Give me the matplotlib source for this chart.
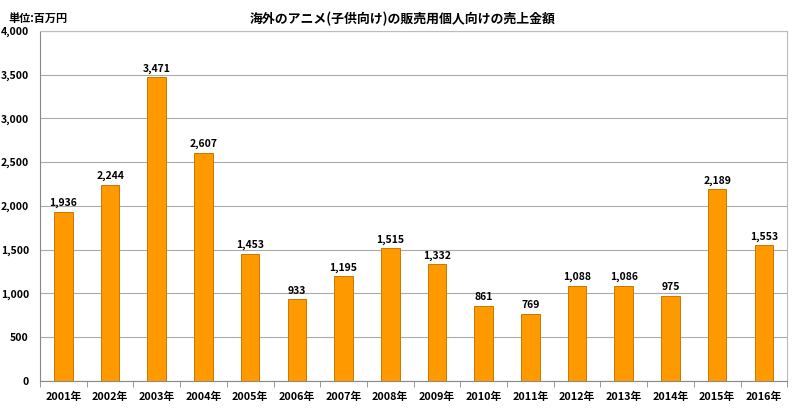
import matplotlib.pyplot as plt
import numpy as np

plt.rcParams['font.family'] = ['Noto Sans CJK JP', 'DejaVu Sans']

years = ['2001年', '2002年', '2003年', '2004年', '2005年', '2006年', '2007年', '2008年',
         '2009年', '2010年', '2011年', '2012年', '2013年', '2014年', '2015年', '2016年']
sales = [1936, 2244, 3471, 2607, 1453, 933, 1195, 1515, 1332, 861, 769, 1088, 1086, 975, 2189, 1553]
yticks = [0, 500, 1000, 1500, 2000, 2500, 3000, 3500, 4000]

fig = plt.figure(figsize=(8, 4.11), dpi=100)
ax = fig.add_axes([0.05, 0.073, 0.934, 0.852])

x = np.arange(len(years))
ax.bar(x, sales, width=0.4, color='#FF9900', edgecolor='#C87800', linewidth=0.7, zorder=3)

# value labels above each bar
for xi, v in zip(x, sales):
    ax.text(xi, v + 40, f'{v:,}', ha='center', va='bottom', fontsize=7.5, fontweight='bold')

ax.set_xlim(-0.5, len(years) - 0.5)
ax.set_ylim(0, 4000)
ax.set_yticks(yticks)
ax.set_yticklabels([f'{t:,}' for t in yticks], fontsize=7.5, fontweight='bold')
ax.yaxis.grid(True, color='#AAAAAA', linewidth=0.8, zorder=0)
ax.tick_params(axis='y', length=0, pad=8)

ax.set_xticks(x)
ax.set_xticklabels(years, fontsize=7.8, fontweight='bold')
ax.set_xticks(np.arange(-0.5, len(years)), minor=True)
ax.tick_params(axis='x', which='major', length=0, pad=8)
ax.tick_params(axis='x', which='minor', length=4, color='#888888')

for s in ['top', 'right']:
    ax.spines[s].set_color('#BBBBBB')
for s in ['left', 'bottom']:
    ax.spines[s].set_color('#888888')

fig.text(0.503, 0.955, '海外のアニメ(子供向け)の販売用個人向けの売上金額', ha='center', va='center',
         fontsize=9.3, fontweight='bold')
fig.text(0.01, 0.955, '単位:百万円', ha='left', va='center', fontsize=8, fontweight='bold')

fig.savefig('out.png', dpi=100)
